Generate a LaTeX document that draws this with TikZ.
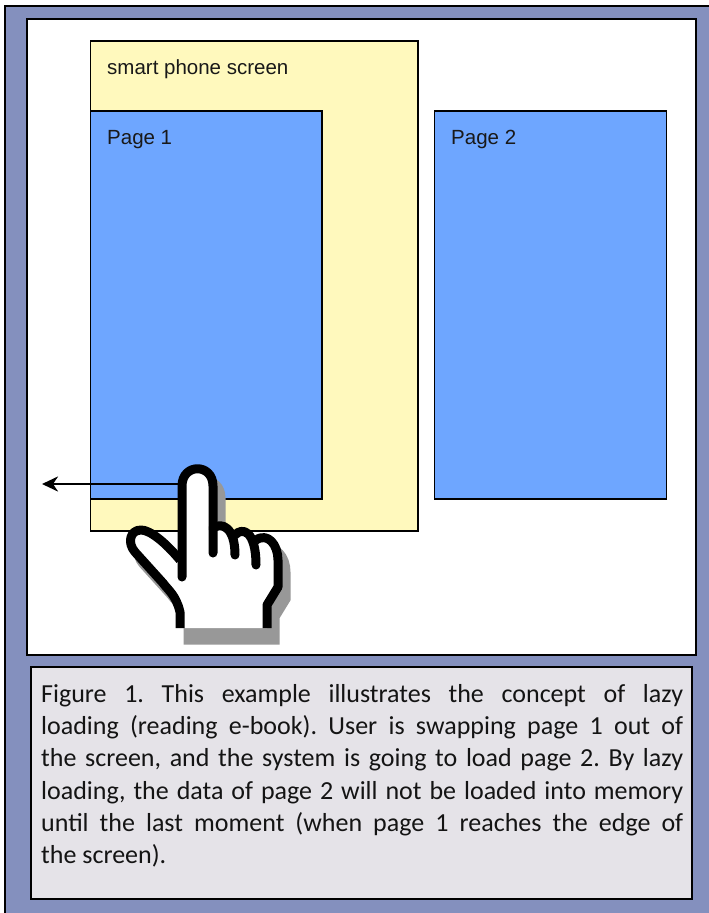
\documentclass[tikz,border=0pt]{standalone}
\usepackage{fontspec}
\setmainfont{Carlito}
\newfontfamily\labelfont{Liberation Sans}
\usetikzlibrary{arrows.meta}
\definecolor{bgblue}{HTML}{8490BE}
\definecolor{capgray}{HTML}{E5E3E8}
\definecolor{screenyellow}{HTML}{FFF9BD}
\definecolor{pageblue}{HTML}{6EA6FF}
\definecolor{handshadow}{HTML}{989898}
\tikzset{
  panel/.style={draw=black,line width=#1,anchor=north west,inner sep=0pt,outer sep=0pt},
  panel/.default=1.1pt,
  lbl/.style={font=\labelfont\fontsize{20.5}{24}\selectfont,anchor=base west,inner sep=0pt,text=black!90},
  handline/.style={line width=9pt,line cap=round,line join=round},
  caption/.style={anchor=base west,inner sep=0pt,text width=642pt,align=justify,font=\fontsize{26}{32.35}\selectfont,text=black!92}
}
\newcommand{\handoutline}{
  (182,628) -- (180,628) -- (180,612) .. controls (176,595) and (168,590) .. (163,583)
  -- (135,552) .. controls (127,543) and (130,530) .. (141,530)
  .. controls (150,530) and (165,542) .. (179,558)
  -- (182,558) -- (182,486) .. controls (182,463) and (213,463) .. (213,486)
  -- (213,528) .. controls (222,522) and (232,527) .. (235,535)
  .. controls (240,528) and (252,530) .. (256,540)
  .. controls (268,532) and (278,545) .. (278,560)
  -- (278,587) -- (267,605) -- (267,628) -- cycle
}
\begin{document}
\begin{tikzpicture}[x=1pt,y=-1pt]
\useasboundingbox (0,0) rectangle (709,913);
\clip (0,0) rectangle (709,913);
\fill[white] (0,0) rectangle (709,913);
\node[panel=2pt,fill=bgblue,minimum width=720pt,minimum height=920pt] (outer) at (5,6) {};
\node[panel=1.8pt,fill=white,minimum width=669pt,minimum height=636pt] (frame) at (27,19) {};
\node[panel,fill=screenyellow,minimum width=327.5pt,minimum height=490pt] (screen) at (90.5,41) {};
\node[panel,fill=pageblue,minimum width=231.5pt,minimum height=388pt] (page1) at (90.5,111) {};
\node[panel,fill=pageblue,minimum width=232pt,minimum height=388pt] (page2) at (434.7,111) {};
\node[lbl] (screenlabel) at (107,74) {smart phone screen};
\node[lbl] (page1label) at (107,144) {Page 1};
\node[lbl] (page2label) at (451,144) {Page 2};
% swipe arrow
\coordinate (fingertouch) at (182,484);
\coordinate (swipeend) at (42,484);
\draw[line width=2.6pt,-{Stealth[length=16pt,width=15pt,inset=5pt]}] (fingertouch) -- (swipeend);
% hand
\fill[handshadow,draw=handshadow,line width=9pt,line join=miter,shift={(8,12)}] \handoutline;
\fill[white] \handoutline;
\draw[handline,line cap=butt] (180,628) -- (180,612) .. controls (176,595) and (168,590) .. (163,583)
  -- (135,552) .. controls (127,543) and (130,530) .. (141,530)
  .. controls (150,530) and (165,542) .. (180,560);
\draw[handline] (182,577) -- (182,486) .. controls (182,463) and (213,463) .. (213,486) -- (213,553);
\draw[handline] (213,528) .. controls (222,522) and (235,527) .. (235,555);
\draw[handline] (235,535) .. controls (242,527) and (256,530) .. (256,565);
\draw[handline,line cap=butt] (256,540) .. controls (268,532) and (278,545) .. (278,560) -- (278,587) -- (267,605) -- (267,628);
% caption
\node[panel=1.8pt,fill=capgray,minimum width=661pt,minimum height=232pt] (capbox) at (31,667) {};
\node[caption] (captext) at (41,702) {\frenchspacing Figure 1. This example illustrates the concept of lazy\linebreak
loading (reading e-book). User is swapping page 1 out of\linebreak
the screen, and the system is going to load page 2. By lazy\linebreak
loading, the data of page 2 will not be loaded into memory\linebreak
until the last moment (when page 1 reaches the edge of\linebreak
the screen).};
\end{tikzpicture}
\end{document}
